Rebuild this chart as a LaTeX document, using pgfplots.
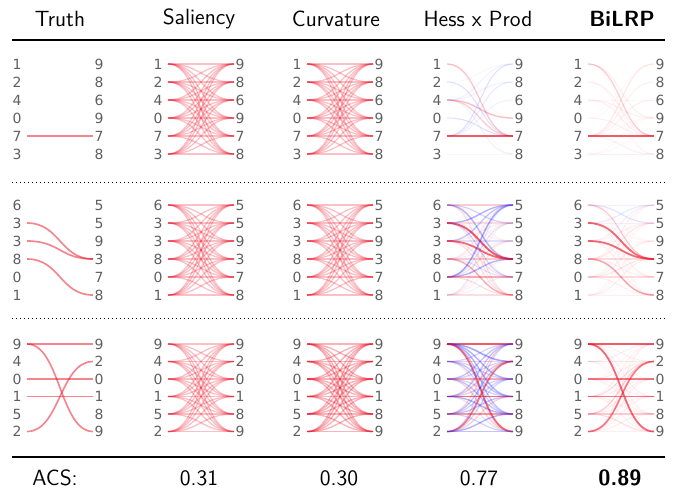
\documentclass[border=0pt]{standalone}
\usepackage{pgfplots}
\pgfplotsset{compat=1.18}
\usepackage{fontspec}
\newfontfamily\dejavu{DejaVu Sans}

\definecolor{edgered}{RGB}{235,20,40}
\definecolor{edgeblue}{RGB}{40,40,255}
\definecolor{digitgray}{RGB}{95,95,95}
\tikzset{
  lbl/.style={font=\dejavu\fontsize{7}{8}\selectfont, text=digitgray, inner sep=0pt},
  hdr/.style={font=\sffamily\fontsize{11}{13}\selectfont, inner sep=0pt},
  hdrb/.style={font=\sffamily\bfseries\fontsize{11}{13}\selectfont, inner sep=0pt},
}

% weights: 6x6 row by row (left node i -> right node j), >0 red, <0 blue
\def\uniA{.38,.38,.38,.38,.38,.38,.38,.38,.38,.38,.38,.38,.38,.38,.38,.38,.38,.38,.38,.38,.38,.38,.38,.38,.38,.38,.38,.38,.38,.38,.38,.38,.38,.38,.38,.38}
\def\uniB{.46,.46,.46,.46,.46,.46,.46,.46,.46,.46,.46,.46,.46,.46,.46,.46,.46,.46,.46,.46,.46,.46,.46,.46,.46,.46,.46,.46,.46,.46,.46,.46,.46,.46,.46,.46}

\newcommand{\panel}[4]{% centre x, top y, step, weights
  \foreach \w [count=\k from 0] in #4 {
    \pgfmathtruncatemacro{\ii}{floor(\k/6)}
    \pgfmathtruncatemacro{\jj}{mod(\k,6)}
    \pgfmathsetmacro{\ya}{#2+\ii*#3}
    \pgfmathsetmacro{\yb}{#2+\jj*#3}
    \pgfmathsetmacro{\xa}{#1-31}
    \pgfmathsetmacro{\xb}{#1+35}
    \pgfmathsetmacro{\xm}{#1+2}
    \pgfmathsetmacro{\op}{min(0.85,0.7*abs(\w))}
    \pgfmathsetmacro{\lw}{0.45+0.5*abs(\w)}
    \ifdim \w pt<0pt \def\col{edgeblue}\else\def\col{edgered}\fi
    \ifdim \w pt=0pt\else
      \edef\tmp{\noexpand\draw[\col, draw opacity=\op, line width=\lw pt]
        (axis cs:\xa,\ya) .. controls (axis cs:\xm,\ya) and (axis cs:\xm,\yb) .. (axis cs:\xb,\yb);}
      \tmp
    \fi
  }
}
\newcommand{\digits}[5]{% centre x, top y, step, left labels, right labels
  \foreach \lab [count=\k from 0] in {#4} {
    \pgfmathsetmacro{\yy}{#2+\k*#3}
    \pgfmathsetmacro{\xx}{#1-41}
    \edef\tmp{\noexpand\node[lbl] at (axis cs:\xx,\yy) {\lab};}\tmp
  }
  \foreach \lab [count=\k from 0] in {#5} {
    \pgfmathsetmacro{\yy}{#2+\k*#3}
    \pgfmathsetmacro{\xx}{#1+41}
    \edef\tmp{\noexpand\node[lbl] at (axis cs:\xx,\yy) {\lab};}\tmp
  }
}

\begin{document}
\begin{tikzpicture}
\begin{axis}[
    scale only axis,
    width=337pt, height=247pt,
    xmin=0, xmax=674, ymin=0, ymax=494,
    y dir=reverse,
    axis lines=none,
    clip=false,
]
\path (axis cs:0,0) rectangle (axis cs:674,494);

% header
\node[hdr] at (axis cs:60,19) {Truth};
\node[hdr] at (axis cs:199,19) {Saliency};
\node[hdr] at (axis cs:336,19) {Curvature};
\node[hdr] at (axis cs:478,19) {Hess x Prod};
\node[hdrb] at (axis cs:622,19) {BiLRP};
\draw[line width=1pt] (axis cs:12,40) -- (axis cs:665,40);
\draw[line width=0.5pt, dash pattern=on 0.5pt off 1.5pt] (axis cs:12,182) -- (axis cs:665,182);
\draw[line width=0.5pt, dash pattern=on 0.5pt off 1.5pt] (axis cs:12,318) -- (axis cs:665,318);
\draw[line width=0.6pt] (axis cs:12,457) -- (axis cs:665,457);

% ACS row
\node[hdr] at (axis cs:55,478) {ACS:};
\node[hdr] at (axis cs:199,478) {0.31};
\node[hdr] at (axis cs:339,478) {0.30};
\node[hdr] at (axis cs:479,478) {0.77};
\node[hdrb] at (axis cs:620,478) {0.89};

% ---- row 1 ----
\panel{58}{64}{18}{{0,0,0,0,0,0, 0,0,0,0,0,0, 0,0,0,0,0,0, 0,0,0,0,0,0, 0,0,0,0,.75,0, 0,0,0,0,0,0}}
\panel{199}{64}{18}{\uniA}
\panel{338}{64}{18}{\uniA}
\panel{478}{64}{18}{{0,0,0,.05,.35,.05, -.05,0,0,0,-.2,0, -.1,-.1,0,.4,.3,-.1, 0,0,0,0,-.2,0, -.2,-.15,-.1,0,1,0, 0,0,0,0,0,-.05}}
\panel{619}{64}{18}{{0,0,0,.1,.3,.05, 0,0,0,0,.1,.05, 0,0,.05,.1,.1,0, .05,0,0,0,.1,0, .15,.1,.1,.05,1,.1, 0,0,0,.05,.05,.1}}

% ---- row 2 ----
\panel{58}{205}{18}{{0,0,0,0,0,0, 0,0,0,.75,0,0, 0,0,0,.75,0,0, 0,0,0,0,0,.75, 0,0,0,0,0,0, 0,0,0,0,0,0}}
\panel{199}{205}{18}{\uniA}
\panel{338}{205}{18}{\uniA}
\panel{478}{205}{18}{{.3,-.3,.1,-.5,.1,.2, -.5,.2,.1,1,-.3,.15, -.4,.15,-.2,.9,.2,.2, .15,.1,-.1,.3,-.2,.5, -.6,-.2,.2,-.5,.5,.2, -.15,.1,.1,.1,-.1,.2}}
\panel{619}{205}{18}{{.1,-.2,.05,.3,.05,.05, -.15,.1,.05,.9,.1,.05, -.1,.1,.05,.9,.05,.1, .1,.15,.05,.2,.1,.55, .05,.05,.1,.15,.2,.1, .05,.05,.05,.1,.05,.1}}

% ---- row 3 ----
\panel{58}{344}{17.5}{{.75,0,0,0,0,.75, 0,0,0,0,0,0, 0,0,.75,0,0,0, 0,0,0,.75,0,0, 0,0,0,0,0,0, 0,.75,0,0,0,0}}
\panel{199}{344}{17.5}{\uniA}
\panel{338}{344}{17.5}{\uniB}
\panel{478}{344}{17.5}{{1,-.6,-.5,-.5,-.4,.9, -.3,.3,-.3,-.4,-.3,.2, -.4,-.3,.5,-.3,-.4,.3, -.4,.4,-.3,.9,-.5,-.2, .3,-.4,-.3,-.4,.6,-.3, -.3,.8,-.3,.3,-.5,-.4}}
\panel{619}{344}{17.5}{{1,.1,.05,.1,.1,.9, -.1,.15,.05,.05,.05,.05, .05,.1,.8,.1,.1,.05, .1,.2,.1,.8,.1,.1, .05,.3,.1,.1,.3,.2, .1,.8,.1,.1,.1,.1}}

% digits
\digits{58}{64}{18}{1,2,4,0,7,3}{9,8,6,9,7,8}
\digits{199}{64}{18}{1,2,4,0,7,3}{9,8,6,9,7,8}
\digits{338}{64}{18}{1,2,4,0,7,3}{9,8,6,9,7,8}
\digits{478}{64}{18}{1,2,4,0,7,3}{9,8,6,9,7,8}
\digits{58}{205}{18}{6,3,3,8,0,1}{5,5,9,3,7,8}
\digits{199}{205}{18}{6,3,3,8,0,1}{5,5,9,3,7,8}
\digits{338}{205}{18}{6,3,3,8,0,1}{5,5,9,3,7,8}
\digits{478}{205}{18}{6,3,3,8,0,1}{5,5,9,3,7,8}
\digits{58}{344}{17.5}{9,4,0,1,5,2}{9,2,0,1,8,9}
\digits{199}{344}{17.5}{9,4,0,1,5,2}{9,2,0,1,8,9}
\digits{338}{344}{17.5}{9,4,0,1,5,2}{9,2,0,1,8,9}
\digits{478}{344}{17.5}{9,4,0,1,5,2}{9,2,0,1,8,9}
\begin{scope}
  \clip (axis cs:0,0) rectangle (axis cs:665,494);
  \digits{619}{64}{18}{1,2,4,0,7,3}{9,8,6,9,7,8}
  \digits{619}{205}{18}{6,3,3,8,0,1}{5,5,9,3,7,8}
  \digits{619}{344}{17.5}{9,4,0,1,5,2}{9,2,0,1,8,9}
\end{scope}
\end{axis}
\end{tikzpicture}
\end{document}
